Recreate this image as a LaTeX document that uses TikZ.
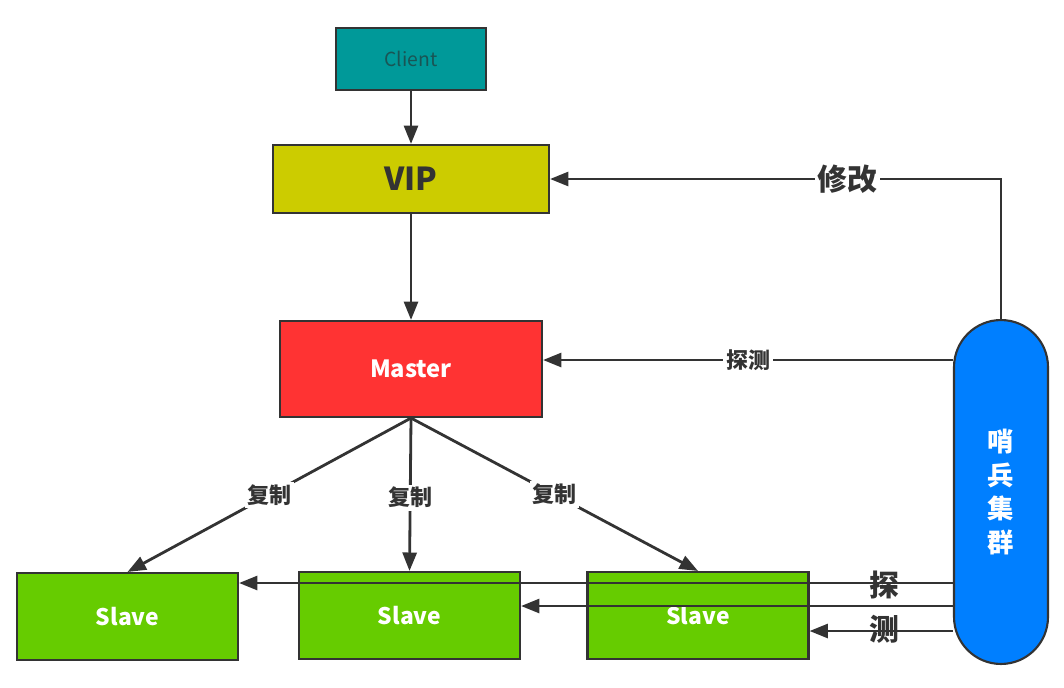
\documentclass[tikz,border=0pt]{standalone}
\usepackage{fontspec}
\setmainfont{Noto Sans CJK SC}
\usepackage{tikz}
\usetikzlibrary{arrows.meta,positioning,calc}

\definecolor{linegray}{RGB}{51,51,51}
\definecolor{clientfill}{RGB}{0,153,153}
\definecolor{clienttext}{RGB}{25,85,85}
\definecolor{vipfill}{RGB}{204,204,0}
\definecolor{masterfill}{RGB}{255,51,51}
\definecolor{slavefill}{RGB}{102,204,0}
\definecolor{sentfill}{RGB}{0,127,255}

\begin{document}
\begin{tikzpicture}[x=0.02cm, y=-0.02cm,
    box/.style={draw=linegray, line width=1.2pt, inner sep=0pt},
    slavebox/.style={box, fill=slavefill, minimum width=4.42cm, minimum height=1.74cm,
      text=white, font=\fontsize{13}{15}\selectfont\bfseries},
    arr/.style={draw=linegray, line width=1.6pt, -{Triangle[length=10.5pt,width=8pt]}},
    lbl/.style={fill=white, inner sep=1.5pt, text=linegray, font=\fontsize{12.5}{14}\selectfont\bfseries}]

  % canvas
  \useasboundingbox (0,0) rectangle (1064,687);

  % Boxes
  \node[box, fill=clientfill, minimum width=3cm, minimum height=1.24cm,
    text=clienttext, font=\fontsize{11}{13}\selectfont] (client) at (411,59) {Client};
  \node[box, fill=vipfill, minimum width=5.52cm, minimum height=1.36cm,
    text=linegray, font=\fontsize{18}{20}\selectfont\bfseries] (vip) at (411,179) {VIP};
  \node[box, fill=masterfill, minimum width=5.24cm, minimum height=1.92cm,
    text=white, font=\fontsize{13.5}{15}\selectfont\bfseries] (master) at (411,369) {Master};
  \node[slavebox] (s1) at (127.5,616.5) {Slave};
  \node[slavebox] (s2) at (409.5,615.5) {Slave};
  \node[slavebox] (s3) at (698,615.5) {Slave};

  % Sentinel cluster
  \node[box, fill=sentfill, minimum width=1.88cm, minimum height=6.88cm,
    rounded corners=0.94cm, text=white, align=center,
    font=\fontsize{15}{19}\selectfont\bfseries] (sen) at (1001,492)
    {哨\\兵\\集\\群};

  % Heights of the probe lines
  \coordinate (ym) at (0,360);
  \coordinate (y1) at (0,583);
  \coordinate (y2) at (0,606);
  \coordinate (y3) at (0,631);

  % Client -> VIP -> Master
  \draw[arr] (client) -- (vip);
  \draw[arr] (vip) -- (master);

  % Replication
  \draw[arr] (master.south) -- (s1.north) node[lbl, pos=0.5] {复制};
  \draw[arr] (master.south) -- (s2.north) node[lbl, pos=0.52] {复制};
  \draw[arr] (master.south) -- (s3.north) node[lbl, pos=0.5] {复制};

  % Sentinel actions
  \draw[arr] (sen.north) |- (vip.east)
    node[lbl, pos=0.67, font=\fontsize{17}{19}\selectfont\bfseries] {修改};
  \draw[arr] (sen.west |- ym) -- (master.east |- ym) node[lbl, pos=0.5] {探测};
  \draw[arr] (sen.west |- y1) -- (s1.east |- y1);
  \draw[arr] (sen.west |- y2) -- (s2.east |- y2);
  \draw[arr] (sen.west |- y3) -- (s3.east |- y3);
  \node[text=linegray, align=center, font=\fontsize{17}{25}\selectfont\bfseries]
    (probe) at (884,607) {探\\测};

\end{tikzpicture}
\end{document}
